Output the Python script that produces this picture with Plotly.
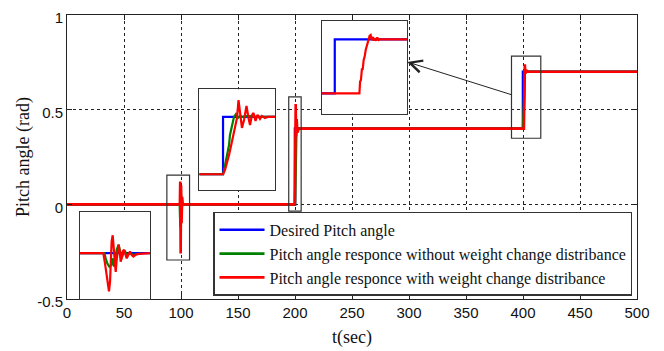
import plotly.graph_objects as go

# ---------------- data ----------------
x_ticks = [0, 50, 100, 150, 200, 250, 300, 350, 400, 450, 500]
y_ticks = [-0.5, 0, 0.5, 1]
y_tick_labels = ["-0.5", "0", "0.5", "1"]

series_names = ["Desired Pitch angle",
                "Pitch angle responce without weight change distribance",
                "Pitch angle responce with weight change distribance"]

# main plot
t_desired = [0, 200, 200, 400, 400, 500]
desired = [0, 0, 0.4, 0.4, 0.7, 0.7]

t_no_dist = [0, 99.0, 99.2, 99.6, 100.0, 100.4, 101.0, 200, 200.6, 201.2, 202, 400, 401, 401.6, 402.5, 500]
no_dist = [0, 0, -0.05, -0.12, 0.05, -0.03, 0, 0, 0.2, 0.41, 0.4, 0.4, 0.55, 0.71, 0.7, 0.7]

t_dist = [0, 99, 99.3, 99.7, 100.1, 100.5, 101, 101.6, 199.8, 200.2, 200.6, 201.0, 201.5, 202.1, 203.5,
          400.8, 401.2, 401.6, 402.1, 402.8, 404, 500]
dist = [0, 0, 0.12, -0.26, 0.1, -0.1, 0.04, 0, 0, 0.25, 0.53, 0.36, 0.45, 0.38, 0.4,
        0.4, 0.6, 0.74, 0.69, 0.71, 0.7, 0.7]

# zoom rectangles on the main plot (t0, t1, y0, y1)
box_t0 = [87.6, 194.5, 389.9]
box_t1 = [107.5, 205.4, 415.6]
box_y0 = [-0.294, -0.036, 0.349]
box_y1 = [0.154, 0.568, 0.783]

# inset 1: disturbance around t = 100
in1_t_des = [95, 105]
in1_des = [0, 0]
in1_t_no = [95, 98.48, 98.67, 98.90, 99.19, 99.48, 99.67, 99.86, 100.05, 100.24, 100.52, 100.71,
            100.95, 101.19, 101.43, 101.76, 102.14, 102.62, 103.10, 103.81]
in1_no = [0, 0, -0.047, -0.093, -0.124, -0.109, -0.047, -0.124, -0.078, 0.031, 0.078, 0.016,
          -0.047, 0, 0.016, -0.016, 0, -0.016, -0.009, -0.003]
in1_t_dist = [95, 98.33, 98.57, 98.81, 99.05, 99.14, 99.29, 99.38, 99.52, 99.67, 99.81, 99.95,
              100.10, 100.24, 100.38, 100.52, 100.67, 100.81, 100.95, 101.10, 101.29, 101.48,
              101.67, 101.90, 102.14, 102.38, 102.62, 103.10, 103.57, 105]
in1_dist = [0, 0, -0.093, -0.202, -0.341, -0.350, -0.264, -0.016, 0.109, 0.164, 0.047, -0.124,
            -0.171, -0.062, 0.047, 0.078, 0.016, -0.078, -0.047, 0.016, 0.031, -0.016,
            -0.047, -0.016, 0.016, -0.016, -0.031, -0.009, -0.006, 0]

# inset 2: step at t = 200
in2_t_des = [197.5, 200, 200, 205.5]
in2_des = [0, 0, 0.4, 0.4]
in2_t_no = [197.5, 200.0, 200.15, 200.31, 200.47, 200.63, 200.73, 200.89, 201.05, 201.15, 201.36,
            201.57, 201.78, 202.10, 202.63, 203.36, 204.09, 205.5]
in2_no = [0, 0, 0.044, 0.100, 0.170, 0.204, 0.274, 0.323, 0.393, 0.400, 0.420,
          0.393, 0.407, 0.400, 0.407, 0.400, 0.400, 0.400]
in2_t_dist = [197.5, 200.0, 200.21, 200.42, 200.63, 200.84, 201.05, 201.26, 201.47, 201.63, 201.78,
              201.99, 202.21, 202.47, 202.68, 202.84, 203.05, 203.21, 203.42, 203.63, 203.89,
              204.09, 204.41, 204.73, 205.5]
in2_dist = [0, 0, 0.030, 0.079, 0.135, 0.197, 0.260, 0.323, 0.393, 0.518, 0.435,
            0.323, 0.379, 0.477, 0.393, 0.344, 0.414, 0.428, 0.372, 0.414, 0.386,
            0.407, 0.393, 0.400, 0.400]

# inset 3: step at t = 400
in3_t_des = [399.25, 400, 400, 404.25]
in3_des = [0.4, 0.4, 0.7, 0.7]
in3_t_dist = [399.25, 401.45, 401.49, 401.54, 401.60, 401.64, 401.70, 401.76, 401.82, 401.88, 401.94,
              402.00, 402.05, 402.11, 402.17, 402.23, 402.29, 402.35, 402.43, 402.50, 402.58,
              402.66, 404.25]
in3_dist = [0.4, 0.4, 0.465, 0.474, 0.539, 0.530, 0.585, 0.604, 0.641, 0.659, 0.687,
            0.706, 0.719, 0.724, 0.696, 0.715, 0.693, 0.706, 0.693, 0.711, 0.696,
            0.700, 0.700]

# arrow from the t=400 box to inset 3 (data coordinates of main axes)
arrow_tail = (391.5, 0.576)
arrow_head = (298.5, 0.752)

# ---------------- styling ----------------
BLUE, GREEN, RED = "#0000ff", "#008000", "#ff0000"
LW = 2.6
SERIF = "Liberation Serif, Times New Roman, serif"
SANS = "Liberation Sans Narrow, Arial Narrow, Liberation Sans, Arial, sans-serif"
FRAME = "#333333"

fig = go.Figure()

# main traces
fig.add_trace(go.Scatter(x=t_desired, y=desired, mode="lines", name=series_names[0],
                         line=dict(color=BLUE, width=LW), legendgroup="a"))
fig.add_trace(go.Scatter(x=t_no_dist, y=no_dist, mode="lines", name=series_names[1],
                         line=dict(color=GREEN, width=LW), legendgroup="b"))
fig.add_trace(go.Scatter(x=t_dist, y=dist, mode="lines", name=series_names[2],
                         line=dict(color=RED, width=LW), legendgroup="c"))

# insets
insets = [
    ("x2", "y2", [(in1_t_des, in1_des, BLUE), (in1_t_no, in1_no, GREEN), (in1_t_dist, in1_dist, RED)]),
    ("x3", "y3", [(in2_t_des, in2_des, BLUE), (in2_t_no, in2_no, GREEN), (in2_t_dist, in2_dist, RED)]),
    ("x4", "y4", [(in3_t_des, in3_des, BLUE), (in3_t_dist, in3_dist, RED)]),
]
for xa, ya, lines in insets:
    for tx, vy, col in lines:
        fig.add_trace(go.Scatter(x=tx, y=vy, mode="lines", xaxis=xa, yaxis=ya,
                                 line=dict(color=col, width=2.2), showlegend=False,
                                 hoverinfo="skip"))

# zoom rectangles
for a, b, c, d in zip(box_t0, box_t1, box_y0, box_y1):
    fig.add_shape(type="rect", xref="x", yref="y", x0=a, x1=b, y0=c, y1=d,
                  line=dict(color=FRAME, width=1.2), fillcolor="rgba(0,0,0,0)", layer="above")

# arrow
fig.add_annotation(x=arrow_head[0], y=arrow_head[1], ax=arrow_tail[0], ay=arrow_tail[1],
                   xref="x", yref="y", axref="x", ayref="y", text="", showarrow=True,
                   arrowhead=5, arrowsize=2.4, arrowwidth=1.0, arrowcolor="#222222")

main_axis = dict(showline=True, linecolor="#222222", linewidth=1, mirror="ticks",
                 ticks="inside", ticklen=5, tickcolor="#222222", automargin=False,
                 ticklabeloverflow="allow",
                 showgrid=True, gridcolor="#222222", gridwidth=1, griddash="3px,3px",
                 zeroline=False, tickfont=dict(family=SANS, size=15, color="#111111"))

inset_axis = dict(showline=True, linecolor=FRAME, linewidth=1.3, mirror=True, ticks="",
                  showticklabels=False, showgrid=False, zeroline=False)

fig.update_layout(
    width=664, height=351,
    # the page body adds an 8 px offset; margins compensate so the plot area sits at 67..637 x 15..299
    margin=dict(l=59, r=35, t=7, b=60, autoexpand=False),
    paper_bgcolor="white", plot_bgcolor="white",
    xaxis=dict(range=[0, 500], tickvals=x_ticks, domain=[0, 1],
               title=dict(text="t(sec)", font=dict(family=SERIF, size=18, color="#111111"), standoff=10),
               **main_axis),
    yaxis=dict(range=[-0.5, 1], tickvals=y_ticks, ticktext=y_tick_labels, domain=[0, 1],
               ticklabelshift=3,
               title=dict(text="Pitch angle (rad)", font=dict(family=SERIF, size=18, color="#111111"), standoff=2),
               **main_axis),
    xaxis2=dict(domain=[0.0228, 0.1456], range=[95, 105], anchor="y2", **inset_axis),
    yaxis2=dict(domain=[0.0, 0.3074], range=[-0.42, 0.38], anchor="x2", **inset_axis),
    xaxis3=dict(domain=[0.2321, 0.3654], range=[197.5, 205.5], anchor="y3", **inset_axis),
    yaxis3=dict(domain=[0.3838, 0.7384], range=[-0.11, 0.593], anchor="x3", **inset_axis),
    xaxis4=dict(domain=[0.4474, 0.5965], range=[399.25, 404.25], anchor="y4", **inset_axis),
    yaxis4=dict(domain=[0.6525, 0.9789], range=[0.287, 0.802], anchor="x4", **inset_axis),
    legend=dict(x=0.2567, y=0.3074, xanchor="left", yanchor="top",
                bgcolor="white", bordercolor=FRAME, borderwidth=1.2,
                font=dict(family=SERIF, size=16, color="#111111"),
                tracegroupgap=2, traceorder="normal", itemwidth=45),
    showlegend=True,
)

fig.write_html("out.html")
